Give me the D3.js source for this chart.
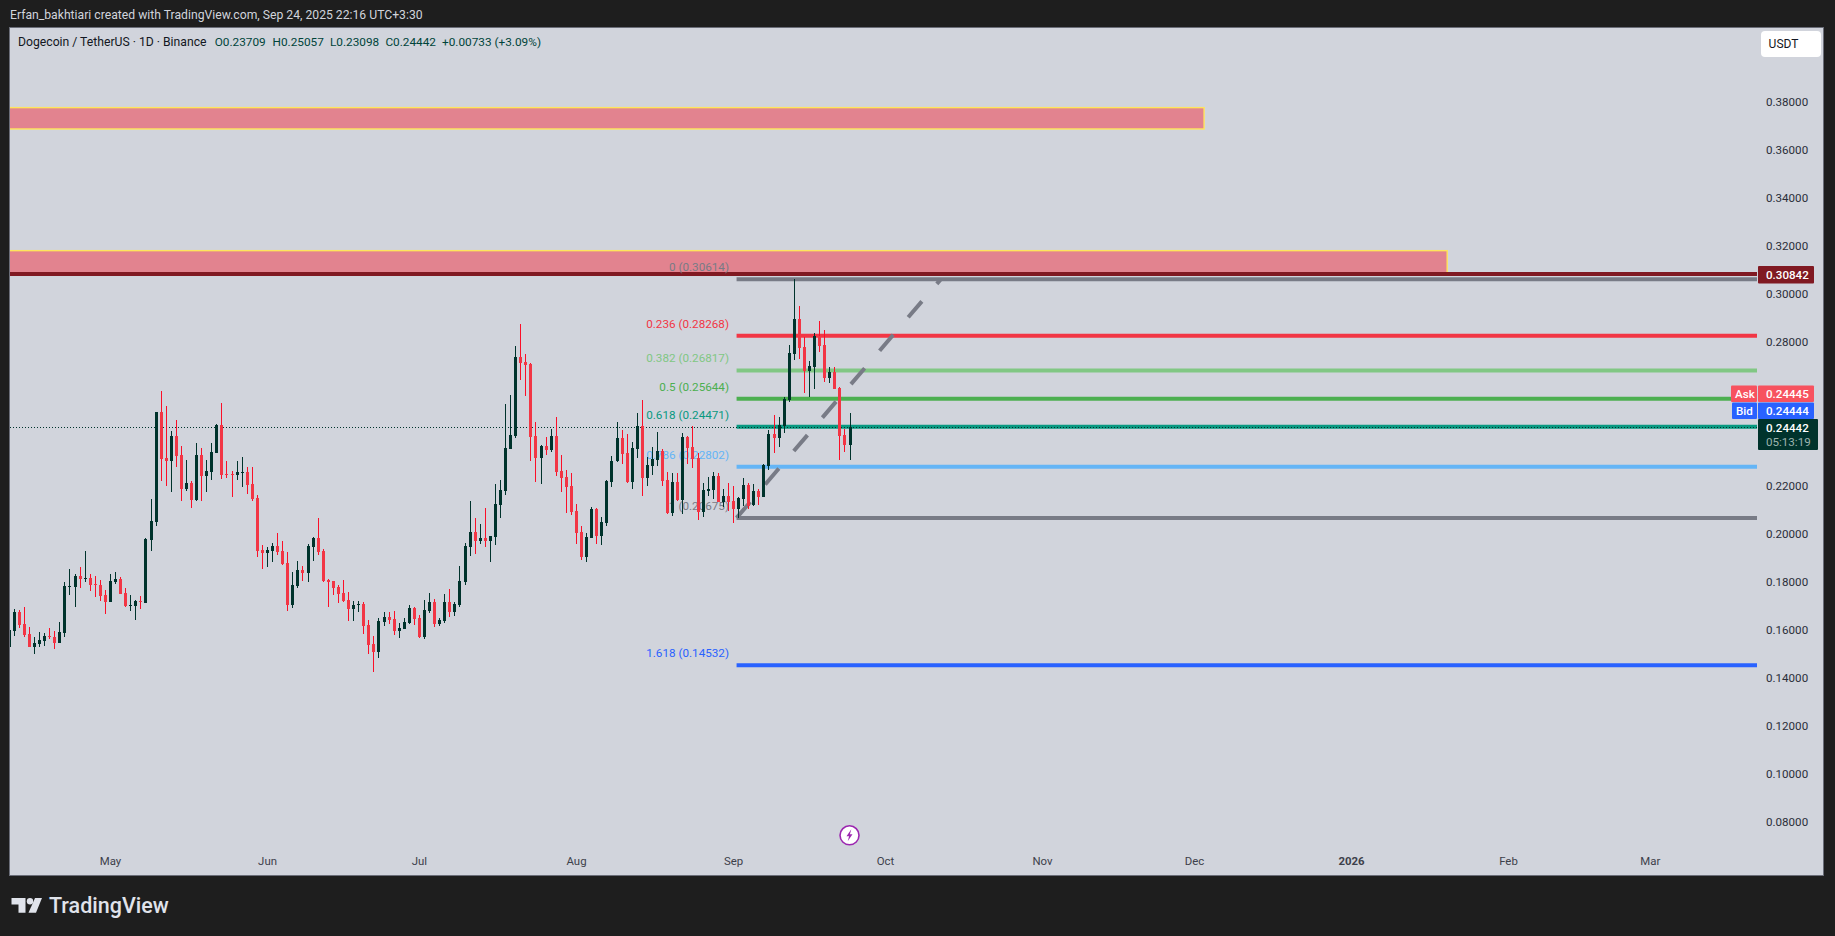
<!DOCTYPE html>
<html>
<head>
<meta charset="utf-8">
<script src="https://cdn.jsdelivr.net/npm/d3@7"></script>
<style>
  html, body { margin: 0; padding: 0; background: #1e1e1e; overflow: hidden; }
  svg { display: block; }
  text { font-family: Roboto, "Liberation Sans", sans-serif; }
  .axis path, .axis line { display: none; }
</style>
</head>
<body>
<div id="chart"></div>
<script>
// daily candles, first one is Apr 11 2025
const firstDay = Date.UTC(2025, 3, 11)
const opens = [
  .1530,.1596,.1674,.1624,.1583,.1530,.1541,.1555,.1574,.1570,
  .1546,.1588,.1778,.1780,.1824,.1812,.1816,.1791,.1787,.1745,
  .1717,.1799,.1812,.1753,.1699,.1699,.1720,.1713,.1976,.2051,
  .2507,.2316,.2305,.2407,.2328,.2188,.2212,.2141,.2328,.2241,
  .2259,.2338,.2453,.2249,.2249,.2246,.2255,.2257,.2207,.2149,
  .1933,.1921,.1928,.1949,.1928,.1878,.1703,.1784,.1849,.1838,
  .1945,.1983,.1928,.1808,.1803,.1778,.1753,.1724,.1687,.1703,
  .1708,.1620,.1541,.1507,.1632,.1653,.1645,.1595,.1603,.1628,
  .1691,.1649,.1570,.1678,.1716,.1624,.1637,.1716,.1674,.1703,
  .1799,.1945,.2007,.1970,.1983,.1970,.1987,.2120,.2178,.2353,
  .2407,.2737,.2716,.2708,.2407,.2316,.2366,.2349,.2407,.2262,
  .2237,.2199,.2095,.2007,.1903,.1983,.2103,.1991,.2045,.2216,
  .2303,.2399,.2337,.2216,.2353,.2449,.2233,.2283,.2307,.2345,
  .2224,.2087,.2216,.2141,.2403,.2362,.2316,.2091,.2178,.2183,
  .2241,.2133,.2157,.2137,.2103,.2145,.2203,.2120,.2178,.2153,
  .2283,.2416,.2399,.2449,.2558,.2749,.2895,.2778,.2678,.2695,
  .2824,.2787,.2649,.2674,.2607,.2412,.23709]
const highs = [
  .1599,.1689,.1682,.1695,.1612,.1570,.1591,.1587,.1609,.1595,
  .1632,.1799,.1853,.1832,.1862,.1928,.1832,.1824,.1808,.1766,
  .1832,.1841,.1820,.1774,.1745,.1724,.1741,.1983,.2145,.2507,
  .2595,.2533,.2428,.2474,.2366,.2307,.2220,.2378,.2357,.2307,
  .2378,.2458,.2545,.2303,.2262,.2303,.2320,.2278,.2278,.2162,
  .1953,.1945,.1962,.2003,.1970,.1924,.1841,.1887,.1866,.1957,
  .1987,.2066,.1937,.1812,.1803,.1787,.1808,.1758,.1720,.1720,
  .1716,.1641,.1574,.1649,.1674,.1674,.1678,.1628,.1649,.1703,
  .1695,.1662,.1724,.1753,.1728,.1649,.1749,.1770,.1716,.1866,
  .1962,.2137,.2066,.2041,.2107,.1991,.2207,.2224,.2541,.2578,
  .2782,.2874,.2749,.2712,.2466,.2370,.2403,.2437,.2487,.2328,
  .2266,.2253,.2124,.2032,.2003,.2112,.2107,.2070,.2225,.2324,
  .2466,.2433,.2416,.2382,.2503,.2558,.2320,.2362,.2424,.2353,
  .2257,.2253,.2253,.2420,.2408,.2449,.2337,.2212,.2237,.2257,
  .2253,.2187,.2212,.2199,.2153,.2233,.2212,.2208,.2187,.2291,
  .2433,.2495,.2487,.2570,.2787,.3061,.2949,.2820,.2720,.2837,
  .2887,.2849,.2695,.2695,.2612,.2437,.25057]
const lows = [
  .1520,.1576,.1609,.1571,.1530,.1501,.1530,.1534,.1563,.1521,
  .1546,.1571,.1746,.1696,.1775,.1800,.1763,.1738,.1721,.1667,
  .1717,.1792,.1749,.1695,.1680,.1642,.1688,.1713,.1928,.2034,
  .2220,.2199,.2176,.2278,.2138,.2180,.2109,.2138,.2138,.2176,
  .2226,.2338,.2230,.2234,.2153,.2226,.2196,.2166,.2138,.1905,
  .1855,.1863,.1884,.1913,.1871,.1680,.1692,.1775,.1803,.1800,
  .1887,.1912,.1800,.1695,.1745,.1712,.1716,.1637,.1637,.1674,
  .1583,.1499,.1424,.1483,.1616,.1624,.1578,.1566,.1603,.1624,
  .1620,.1566,.1563,.1670,.1612,.1616,.1628,.1653,.1657,.1695,
  .1787,.1907,.1916,.1957,.1945,.1882,.1953,.2066,.2162,.2353,
  .2399,.2641,.2574,.2303,.2216,.2207,.2328,.2341,.2241,.2174,
  .2087,.2078,.1957,.1891,.1882,.1983,.1957,.1953,.2033,.2195,
  .2299,.2292,.2212,.2187,.2316,.2157,.2199,.2245,.2283,.2199,
  .2085,.2074,.2137,.2083,.2291,.2274,.2058,.2070,.2157,.2145,
  .2133,.2112,.2095,.2045,.2066,.2116,.2103,.2116,.2120,.2153,
  .2266,.2337,.2362,.2420,.2549,.2724,.2728,.2587,.2570,.2603,
  .2758,.2632,.2628,.2603,.2307,.2341,.23098]
const closes = [
  .1599,.1674,.1621,.1580,.1530,.1545,.1558,.1574,.1570,.1546,
  .1591,.1782,.1782,.1824,.1812,.1816,.1788,.1788,.1741,.1717,
  .1803,.1812,.1751,.1699,.1703,.1720,.1717,.1978,.2053,.2507,
  .2312,.2303,.2407,.2326,.2188,.2212,.2141,.2328,.2242,.2262,
  .2341,.2453,.2245,.2245,.2245,.2257,.2257,.2203,.2146,.1928,
  .1921,.1933,.1949,.1925,.1874,.1703,.1787,.1849,.1837,.1949,
  .1983,.1924,.1803,.1799,.1774,.1749,.1720,.1687,.1703,.1708,
  .1616,.1537,.1507,.1637,.1653,.1641,.1595,.1608,.1632,.1691,
  .1645,.1570,.1682,.1716,.1624,.1641,.1716,.1674,.1708,.1803,
  .1949,.2007,.1970,.1983,.1970,.1991,.2124,.2183,.2357,.2412,
  .2737,.2712,.2703,.2403,.2316,.2366,.2349,.2407,.2257,.2233,
  .2195,.2091,.2003,.1903,.1987,.2103,.1991,.2049,.2220,.2303,
  .2399,.2332,.2216,.2358,.2449,.2233,.2287,.2312,.2345,.2220,
  .2087,.2216,.2141,.2403,.2358,.2312,.2091,.2183,.2187,.2241,
  .2133,.2157,.2133,.2103,.2149,.2203,.2116,.2178,.2153,.2287,
  .2416,.2399,.2453,.2562,.2753,.2895,.2774,.2678,.2699,.2824,
  .2782,.2649,.2674,.2603,.2408,.2371,.24442]

// axis ticks (0.24 and 0.26 are covered by the price badges in the picture)
const priceTicks = [0.08,0.10,0.12,0.14,0.16,0.18,0.20,0.22,0.28,0.30,0.32,0.34,0.36,0.38]
const timeTicks = [
  Date.UTC(2025,4,1), Date.UTC(2025,5,1), Date.UTC(2025,6,1), Date.UTC(2025,7,1), Date.UTC(2025,8,1),
  Date.UTC(2025,9,1), Date.UTC(2025,10,1), Date.UTC(2025,11,1), Date.UTC(2026,0,1), Date.UTC(2026,1,1), Date.UTC(2026,2,1)]
const timeLabels = ['May','Jun','Jul','Aug','Sep','Oct','Nov','Dec','2026','Feb','Mar']

// fib retracement levels
const fibLevels = ['0','0.236','0.382','0.5','0.618','0.786','1','1.618']
const fibPrices = [0.30614,0.28268,0.26817,0.25644,0.24471,0.22802,0.20675,0.14532]
const fibColors = ['#787b86','#f23645','#81c784','#4caf50','#089981','#64b5f6','#787b86','#2962ff']
const fibStart = Date.UTC(2025,8,2)
const trendEnd = Date.UTC(2025,9,12)

// red zones: price top, price bottom, end date
const zoneTops = [0.3777,0.3181]
const zoneBottoms = [0.3688,0.3085]
const zoneEnds = [Date.UTC(2025,11,3),Date.UTC(2026,0,20)]

const resistance = 0.30842
const lastPrice = 0.24442
const askPrice = 0.24445
const bidPrice = 0.24444

const width = 1835, height = 936
const pane = { left: 10, top: 27, right: 1824, bottom: 875 }
const axisX = 1757

const red = '#f23645', redWick = '#fb0f28', dark = '#00332c'

const x = d3.scaleUtc()
  .domain([timeTicks[0], timeTicks[10]])
  .range([110, 1649.8])
const y = d3.scaleLinear()
  .domain([0.08, 0.38])
  .range([822.1, 102.1])

const svg = d3.select('#chart').append('svg')
  .attr('width', width)
  .attr('height', height)

svg.append('defs').append('clipPath').attr('id', 'plot')
  .append('rect')
    .attr('x', pane.left)
    .attr('y', pane.top)
    .attr('width', axisX - pane.left)
    .attr('height', pane.bottom - pane.top)

svg.append('rect')
  .attr('width', width)
  .attr('height', height)
  .attr('fill', '#1e1e1e')

svg.append('rect')
  .attr('x', pane.left - 0.5)
  .attr('y', pane.top + 0.5)
  .attr('width', pane.right - pane.left)
  .attr('height', pane.bottom - pane.top)
  .attr('fill', '#d1d4dc')
  .attr('stroke', '#6a6d78')

svg.append('text')
  .attr('x', 10)
  .attr('y', 19)
  .attr('fill', '#d1d4dc')
  .style('font-size', '12.2px')
  .text('Erfan_bakhtiari created with TradingView.com, Sep 24, 2025 22:16 UTC+3:30')

const plot = svg.append('g').attr('clip-path', 'url(#plot)')

// zones
zoneTops.forEach(function (top, i) {
  plot.append('rect')
    .attr('x', pane.left - 5)
    .attr('y', y(top))
    .attr('width', x(zoneEnds[i]) - pane.left + 5)
    .attr('height', y(zoneBottoms[i]) - y(top))
    .attr('fill', '#e2838f')
    .attr('stroke', '#ffe55c')
    .attr('stroke-width', 1.4)
})

// resistance line
plot.append('line')
  .attr('x1', pane.left)
  .attr('x2', axisX)
  .attr('y1', y(resistance))
  .attr('y2', y(resistance))
  .attr('stroke', '#801922')
  .attr('stroke-width', 4)

// fib labels sit behind the candles
const fibLeft = x(fibStart) - 1.5
fibLevels.forEach(function (level, i) {
  plot.append('text')
    .attr('x', 729)
    .attr('y', y(fibPrices[i]) - 12 + 4)
    .attr('text-anchor', 'end')
    .attr('fill', fibColors[i])
    .style('font-size', '11.7px')
    .text(level + ' (' + fibPrices[i].toFixed(5) + ')')
  plot.append('line')
    .attr('x1', fibLeft)
    .attr('x2', axisX)
    .attr('y1', y(fibPrices[i]))
    .attr('y2', y(fibPrices[i]))
    .attr('stroke', fibColors[i])
    .attr('stroke-width', 4)
})

// fib trend line
plot.append('line')
  .attr('x1', fibLeft)
  .attr('y1', y(fibPrices[6]))
  .attr('x2', x(trendEnd))
  .attr('y2', y(fibPrices[0]))
  .attr('stroke', '#787b86')
  .attr('stroke-width', 4)
  .attr('stroke-dasharray', '21 23')

// last price line
plot.append('line')
  .attr('x1', pane.left)
  .attr('x2', axisX)
  .attr('y1', Math.round(y(lastPrice)) + 0.5)
  .attr('y2', Math.round(y(lastPrice)) + 0.5)
  .attr('stroke', dark)
  .attr('stroke-dasharray', '1 2')
  .attr('shape-rendering', 'crispEdges')

// candles
const day = 24 * 3600 * 1000
const candles = opens.map(function (o, i) {
  return { date: firstDay + i * day, o: o, h: highs[i], l: lows[i], c: closes[i] }
})

const candle = plot.append('g').selectAll('g')
  .data(candles)
  .enter().append('g')
    .attr('shape-rendering', 'crispEdges')

candle.append('rect')
  .attr('x', function (d) { return Math.round(x(d.date)) })
  .attr('width', 1)
  .attr('y', function (d) { return Math.round(y(d.h)) })
  .attr('height', function (d) { return Math.round(y(d.l)) - Math.round(y(d.h)) })
  .attr('fill', function (d) { return d.c >= d.o ? dark : redWick })

candle.append('rect')
  .attr('x', function (d) { return Math.round(x(d.date)) - 1 })
  .attr('width', 3)
  .attr('y', function (d) { return Math.round(y(Math.max(d.o, d.c))) })
  .attr('height', function (d) {
    return Math.max(1, Math.round(y(Math.min(d.o, d.c))) - Math.round(y(Math.max(d.o, d.c))))
  })
  .attr('fill', function (d) { return d.c >= d.o ? dark : red })

// price axis
svg.append('g')
  .attr('class', 'axis')
  .attr('transform', 'translate(1766,0)')
  .call(d3.axisRight(y).tickValues(priceTicks).tickSize(0).tickPadding(0).tickFormat(d3.format('.5f')))
  .call(function (g) {
    g.selectAll('text').attr('fill', '#2a2e39').style('font-size', '11.6px')
  })

// time axis
svg.append('g')
  .attr('class', 'axis')
  .attr('transform', 'translate(0,857)')
  .call(d3.axisBottom(x).tickValues(timeTicks).tickSize(0).tickPadding(0)
    .tickFormat(function (d, i) { return timeLabels[i] }))
  .call(function (g) {
    g.selectAll('text')
      .attr('fill', '#3d404a')
      .style('font-size', '11.4px')
      .style('font-weight', function (d, i) { return timeLabels[i] == '2026' ? 'bold' : 'normal' })
  })

// legend
const legendText = ['Dogecoin / TetherUS · 1D · Binance','O0.23709','H0.25057','L0.23098','C0.24442','+0.00733 (+3.09%)']
const legendX = [18, 214.7, 272.5, 330, 385.4, 442]
legendText.forEach(function (t, i) {
  svg.append('text')
    .attr('x', legendX[i])
    .attr('y', 46)
    .attr('fill', i == 0 ? '#131722' : '#00443a')
    .style('font-size', i == 0 ? '12.2px' : '11.8px')
    .text(t)
})

// USDT button
svg.append('rect')
  .attr('x', 1761).attr('y', 31)
  .attr('width', 60).attr('height', 26)
  .attr('rx', 4)
  .attr('fill', '#ffffff')
svg.append('text')
  .attr('x', 1783.5).attr('y', 48)
  .attr('text-anchor', 'middle')
  .attr('fill', '#131722')
  .style('font-size', '12px')
  .text('USDT')

// price badges on the axis
function badge(px, x0, w, y0, h, color, label) {
  svg.append('rect')
    .attr('x', x0).attr('y', y0)
    .attr('width', w).attr('height', h)
    .attr('rx', 1)
    .attr('fill', color)
  svg.append('text')
    .attr('x', px).attr('y', y0 + 12.5)
    .attr('fill', '#ffffff')
    .style('font-size', '11.6px')
    .style('font-weight', 500)
    .text(label)
}
badge(1766, 1758, 56, 266, 17.5, '#801922', resistance.toFixed(5))
badge(1735, 1731, 26, 385.5, 16.5, '#f7525f', 'Ask')
badge(1766, 1758, 56, 385.5, 16.5, '#f7525f', askPrice.toFixed(5))
badge(1736, 1732, 25, 402.5, 16.5, '#2962ff', 'Bid')
badge(1766, 1758, 56, 402.5, 16.5, '#2962ff', bidPrice.toFixed(5))
badge(1766, 1758, 60, 419, 31, dark, lastPrice.toFixed(5))
svg.append('text')
  .attr('x', 1766).attr('y', 445.5)
  .attr('fill', '#9db3ae')
  .style('font-size', '11.6px')
  .text('05:13:19')

// purple marker on the last candle
const markX = x(firstDay + 166 * day)
svg.append('circle')
  .attr('cx', markX).attr('cy', 835.3)
  .attr('r', 9.5)
  .attr('fill', '#ffffff')
  .attr('stroke', '#9c27b0')
  .attr('stroke-width', 1.6)
svg.append('path')
  .attr('transform', 'translate(' + markX + ',835.3)')
  .attr('d', 'M1.8,-6 L-3,1 L-0.4,1 L-1.8,6 L3,-1 L0.4,-1 Z')
  .attr('fill', '#9c27b0')

// TradingView logo
const logo = svg.append('g').attr('fill', '#e0e3eb')
logo.append('path').attr('d', 'M11.5,898 H25.5 V912.7 H18.5 V904.5 H11.5 Z')
logo.append('circle').attr('cx', 30).attr('cy', 901.3).attr('r', 3.2)
logo.append('path').attr('d', 'M35,898 H42 L36,912.7 H28.5 Z')
logo.append('text')
  .attr('x', 49).attr('y', 912.5)
  .style('font-size', '21.5px')
  .style('font-weight', 500)
  .text('TradingView')
</script>
</body>
</html>
